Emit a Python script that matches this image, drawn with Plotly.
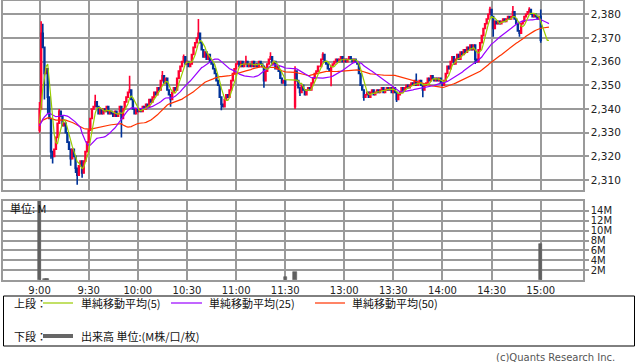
import plotly.graph_objects as go
import pandas as pd

W, H = 638, 362

# ---------------- data ----------------
time_tick_labels = ["9:00", "9:30", "10:00", "10:30", "11:00", "11:30",
                    "13:00", "13:30", "14:00", "14:30", "15:00"]
time_tick_pos = [0, 30, 60, 90, 120, 150, 186, 216, 246, 276, 306]
price_ticks = [2310, 2320, 2330, 2340, 2350, 2360, 2370, 2380]
price_tick_labels = ["2,310", "2,320", "2,330", "2,340", "2,350", "2,360", "2,370", "2,380"]
vol_ticks = [2e6, 4e6, 6e6, 8e6, 10e6, 12e6, 14e6]
vol_tick_labels = ["2M", "4M", "6M", "8M", "10M", "12M", "14M"]

# previous-day closes (only used to seed the moving averages)
prev_day_close = [2335, 2335, 2335, 2335, 2335, 2335, 2335, 2335, 2335, 2335, 2335, 2335,
                  2335, 2335, 2335, 2335, 2335, 2335, 2335, 2335, 2335, 2335, 2335, 2335,
                  2332.5, 2332.5, 2332.5, 2332.5, 2332.5, 2332.5, 2332.5, 2332.5, 2332.5,
                  2332.5, 2332.5, 2332.5, 2332.5, 2332.5, 2332.5, 2332.5, 2332.5, 2332.5,
                  2332.5, 2332.5, 2332.5, 2332.5, 2332.5, 2332.5, 2332.5]

# morning session 9:00 - 11:30 (1-minute closes)
am_close = [2340, 2372, 2366, 2355, 2357, 2345, 2336, 2322, 2320, 2323,
            2328, 2334, 2339, 2337, 2333, 2334, 2330, 2326, 2323, 2319,
            2323, 2320, 2315, 2312, 2316, 2318, 2313, 2318, 2322, 2326,
            2331, 2336, 2340, 2341, 2343, 2341, 2338, 2340, 2338, 2340,
            2339, 2341, 2338, 2339, 2338, 2337, 2339, 2337, 2338, 2341,
            2336, 2340, 2343, 2345, 2347, 2348, 2344, 2340, 2338, 2340,
            2339, 2340, 2339, 2341, 2340, 2342, 2341, 2344, 2343, 2345,
            2347, 2346, 2349, 2348, 2352, 2354, 2351, 2353, 2348, 2346,
            2344, 2347, 2349, 2348, 2353, 2356, 2358, 2360, 2362, 2359,
            2360, 2358, 2359, 2363, 2366, 2368, 2370, 2372, 2368, 2365,
            2362, 2364, 2361, 2363, 2360, 2359, 2357, 2355, 2352, 2350,
            2345, 2342, 2341, 2344, 2346, 2345, 2348, 2352, 2355, 2357,
            2359, 2360, 2358, 2360, 2358, 2359, 2360, 2358, 2359, 2358,
            2360, 2358, 2359, 2358, 2360, 2359, 2358, 2352, 2356, 2359,
            2361, 2362, 2359, 2360, 2357, 2358, 2356, 2353, 2351, 2352,
            2350]

# afternoon session 12:30 - 15:00 (1-minute closes)
pm_close = [2356, 2352, 2349, 2347, 2350, 2348, 2346, 2348, 2349, 2348,
            2351, 2353, 2355, 2356, 2358, 2358, 2361, 2363, 2360, 2359,
            2357, 2356, 2358, 2359, 2360, 2361, 2360, 2361, 2362, 2360,
            2361, 2360, 2361, 2362, 2361, 2360, 2361, 2360, 2359, 2355,
            2350, 2348, 2345, 2346, 2347, 2345, 2347, 2348, 2346, 2347,
            2348, 2347, 2348, 2349, 2347, 2348, 2349, 2348, 2349, 2347,
            2349, 2347, 2344, 2346, 2347, 2349, 2348, 2349, 2350, 2349,
            2350, 2351, 2350, 2352, 2350, 2351, 2352, 2350, 2348, 2350,
            2351, 2353, 2352, 2354, 2353, 2352, 2353, 2352, 2353, 2351,
            2350, 2352, 2355, 2358, 2357, 2360, 2362, 2359, 2361, 2363,
            2361, 2364, 2363, 2365, 2364, 2366, 2365, 2367, 2365, 2367,
            2361, 2360, 2365, 2368, 2371, 2374, 2376, 2378, 2380, 2382,
            2379, 2374, 2377, 2376, 2377, 2376, 2377, 2378, 2377, 2378,
            2379, 2378, 2379, 2381, 2378, 2376, 2373, 2372, 2376, 2377,
            2379, 2380, 2381, 2382, 2380, 2379, 2380, 2379, 2378, 2379,
            2369]

# closes carried after 15:00 (moving averages keep running)
post_close = [2369, 2369, 2369, 2369, 2369]

# explicit opens / wicks (others: open = previous close)
am_open_override = {0: 2331}
pm_open_override = {0: 2341}
am_high_override = {0: 2343, 1: 2377, 2: 2376, 12: 2340, 34: 2346, 55: 2354,
                    75: 2356, 88: 2363, 97: 2378, 126: 2362.5, 141: 2364}
am_low_override = {0: 2330, 3: 2344, 5: 2338, 7: 2319, 8: 2317, 19: 2316, 22: 2313,
                   23: 2308, 26: 2311, 50: 2328, 80: 2341, 111: 2339.5, 137: 2349}
pm_high_override = {0: 2358, 17: 2364, 74: 2355, 119: 2383.2, 133: 2383.5,
                    143: 2383, 150: 2382}
pm_low_override = {0: 2340, 3: 2345.5, 22: 2349.6, 42: 2343.5, 62: 2343, 78: 2345,
                   110: 2359, 121: 2370.5, 137: 2370.5, 150: 2368}

# volume (shares) of the visible volume bars: (session, minute, volume)
vol_session = ["am", "am", "am", "am", "am", "pm", "pm"]
vol_minute = [0, 3, 4, 5, 150, 0, 150]
vol_value = [18e6, 0.3e6, 0.3e6, 0.3e6, 0.55e6, 1.55e6, 7.3e6]

PM_OFFSET = 156  # x position of 12:30 on the compressed time axis

# ---------------- build series ----------------
am_x = list(range(len(am_close)))
pm_x = [PM_OFFSET + i for i in range(len(pm_close))]
post_x = [pm_x[-1] + 1 + i for i in range(len(post_close))]


def session_ohlc(closes, prev_close, open_ov, high_ov, low_ov):
    o, h, l = [], [], []
    last = prev_close
    for i, c in enumerate(closes):
        op = open_ov.get(i, last)
        hi = high_ov.get(i, max(op, c))
        lo = low_ov.get(i, min(op, c))
        o.append(op); h.append(hi); l.append(lo)
        last = c
    return o, h, l


am_o, am_h, am_l = session_ohlc(am_close, prev_day_close[-1], am_open_override,
                                am_high_override, am_low_override)
pm_o, pm_h, pm_l = session_ohlc(pm_close, am_close[-1], pm_open_override,
                                pm_high_override, pm_low_override)

cx = am_x + pm_x
co = am_o + pm_o
ch = am_h + pm_h
cl = am_l + pm_l
cc = am_close + pm_close

all_close = pd.Series(prev_day_close + am_close + pm_close + post_close)
n_prev = len(prev_day_close)
ma_x = am_x + pm_x + post_x
ma5 = all_close.rolling(5).mean().iloc[n_prev:].tolist()
ma25 = all_close.rolling(25).mean().iloc[n_prev:].tolist()
ma50 = all_close.rolling(50).mean().iloc[n_prev:].tolist()

vx = [m if s == "am" else PM_OFFSET + m for s, m in zip(vol_session, vol_minute)]

RED = "#ff0033"
BLUE = "#003399"
GREEN = "#99cc00"
PURPLE = "#9900ff"
ORANGE = "#ff3300"
GRID = "#9a9a9a"

fig = go.Figure()
fig.add_trace(go.Candlestick(
    x=cx, open=co, high=ch, low=cl, close=cc,
    increasing=dict(line=dict(color=RED, width=1.6), fillcolor=RED),
    decreasing=dict(line=dict(color=BLUE, width=1.6), fillcolor=BLUE),
    whiskerwidth=0, showlegend=False, hoverinfo="skip", xaxis="x", yaxis="y"))
for ys, col in [(ma50, ORANGE), (ma25, PURPLE), (ma5, GREEN)]:
    fig.add_trace(go.Scatter(x=ma_x, y=ys, mode="lines",
                             line=dict(color=col, width=1.2),
                             showlegend=False, hoverinfo="skip",
                             xaxis="x", yaxis="y"))
fig.add_trace(go.Bar(x=vx, y=vol_value, width=1.9,
                     marker=dict(color="#606060", line=dict(color="#606060", width=0.6)),
                     showlegend=False, hoverinfo="skip", xaxis="x2", yaxis="y2"))


def px_x(p):
    return p / W


def px_y(p):
    return 1 - p / H


XDOM = [px_x(3), px_x(583)]
XR = [-22.3, 331.8]
tickfont = dict(family="DejaVu Sans", size=10, color="#222222")

fig.update_layout(
    width=W, height=H, margin=dict(l=0, r=0, t=0, b=0),
    paper_bgcolor="white", plot_bgcolor="white",
    bargap=0,
    xaxis=dict(domain=XDOM, range=XR, tickvals=time_tick_pos, showticklabels=False,
               showgrid=True, gridcolor=GRID, gridwidth=1.5, showline=True, mirror=True,
               linecolor=GRID, linewidth=1.5, zeroline=False, ticks="",
               rangeslider=dict(visible=False), anchor="y", fixedrange=True),
    yaxis=dict(domain=[px_y(190), px_y(1)], range=[2305.8, 2385.6], side="right",
               tickvals=price_ticks, ticktext=price_tick_labels, ticks="outside",
               ticklen=4, tickcolor=GRID, tickwidth=1.5, showgrid=True, gridcolor=GRID,
               gridwidth=1.5, showline=True, mirror=True, linecolor=GRID, linewidth=1.5,
               zeroline=False, tickfont=dict(family="DejaVu Sans", size=10.5, color="#222222"),
               anchor="x"),
    xaxis2=dict(domain=XDOM, range=XR, tickvals=time_tick_pos, ticktext=time_tick_labels,
                showgrid=True, gridcolor=GRID, gridwidth=1.5, showline=True, mirror=True,
                linecolor=GRID, linewidth=1.5, zeroline=False, ticks="",
                tickfont=tickfont, anchor="y2"),
    yaxis2=dict(domain=[px_y(280), px_y(201)], range=[0, 16e6], side="right",
                tickvals=vol_ticks, ticktext=vol_tick_labels, ticks="outside",
                ticklen=4, tickcolor=GRID, tickwidth=1.5, showgrid=True, gridcolor=GRID,
                gridwidth=1.5, showline=True, mirror=True, linecolor=GRID, linewidth=1.5,
                zeroline=False, tickfont=tickfont, anchor="x2"),
)

jp = dict(family="Noto Sans CJK JP", size=11, color="#111111")
ann = []


def text(x, y, s, anchor="left", font=jp):
    ann.append(dict(x=px_x(x), y=px_y(y), xref="paper", yref="paper", text=s,
                    showarrow=False, xanchor=anchor, yanchor="middle", font=font))


text(8, 208, "単位: M")
text(12, 303, "上段：")
text(79, 303, "単純移動平均(5)")
text(207, 303, "単純移動平均(25)")
text(350, 303, "単純移動平均(50)")
text(12, 336, "下段：")
text(79, 336, "出来高 単位:(M株/口/枚)")
text(617, 357, "(c)Quants Research Inc.", anchor="right",
     font=dict(family="DejaVu Sans", size=10, color="#555555"))

shapes = [
    dict(type="rect", xref="paper", yref="paper", x0=px_x(3.5), x1=px_x(634.5),
         y0=px_y(346), y1=px_y(296), line=dict(color="#000000", width=1)),
    dict(type="line", xref="paper", yref="paper", x0=px_x(43), x1=px_x(73),
         y0=px_y(303), y1=px_y(303), line=dict(color=GREEN, width=1.2)),
    dict(type="line", xref="paper", yref="paper", x0=px_x(171), x1=px_x(202),
         y0=px_y(303), y1=px_y(303), line=dict(color=PURPLE, width=1.2)),
    dict(type="line", xref="paper", yref="paper", x0=px_x(315), x1=px_x(345),
         y0=px_y(303), y1=px_y(303), line=dict(color=ORANGE, width=1.2)),
    dict(type="line", xref="paper", yref="paper", x0=px_x(43), x1=px_x(73),
         y0=px_y(336), y1=px_y(336), line=dict(color="#666666", width=4)),
]
fig.update_layout(annotations=ann, shapes=shapes)

fig.write_html("out.html")
